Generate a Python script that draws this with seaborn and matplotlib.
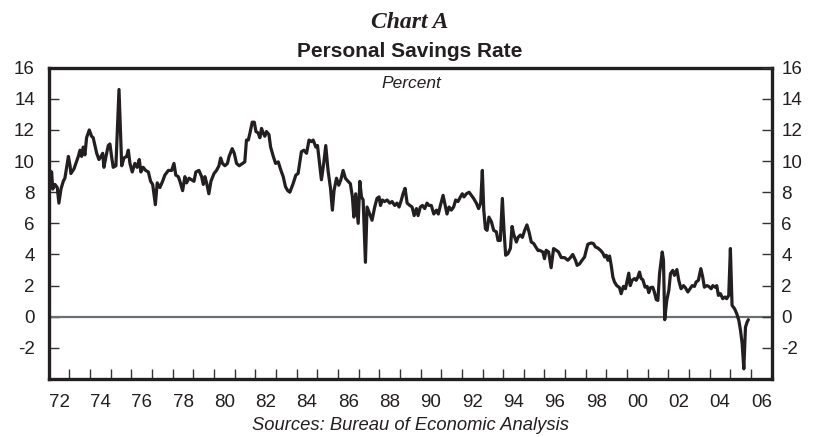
import matplotlib
matplotlib.use("Agg")
import matplotlib.pyplot as plt
from matplotlib import font_manager
import seaborn as sns
import pandas as pd

# ---- data (decimal year, personal savings rate %) ----
years = [
    1972.00, 1972.14, 1972.19, 1972.30, 1972.41, 1972.49, 1972.59, 1972.70, 1972.78, 1972.95,
    1973.03, 1973.07, 1973.22, 1973.43, 1973.51, 1973.59, 1973.67, 1973.75, 1973.83, 1973.96,
    1974.07, 1974.15, 1974.32, 1974.43, 1974.53, 1974.61, 1974.67, 1974.77, 1974.88, 1974.96,
    1975.04, 1975.12, 1975.25, 1975.40, 1975.53, 1975.64, 1975.77, 1975.85, 1975.93, 1976.04,
    1976.17, 1976.28, 1976.38, 1976.46, 1976.57, 1976.69, 1976.82, 1976.93, 1977.03, 1977.16,
    1977.25, 1977.38, 1977.51, 1977.62, 1977.79, 1977.95, 1978.06, 1978.15, 1978.27, 1978.35,
    1978.48, 1978.59, 1978.67, 1978.79, 1978.91, 1979.03, 1979.12, 1979.27, 1979.40, 1979.48,
    1979.56, 1979.64, 1979.75, 1979.85, 1980.00, 1980.12, 1980.24, 1980.32, 1980.41, 1980.53,
    1980.65, 1980.73, 1980.88, 1980.98, 1981.09, 1981.22, 1981.38, 1981.49, 1981.57, 1981.66,
    1981.74, 1981.85, 1981.95, 1982.03, 1982.14, 1982.22, 1982.30, 1982.38, 1982.46, 1982.54,
    1982.66, 1982.74, 1982.87, 1982.98, 1983.11, 1983.24, 1983.35, 1983.46, 1983.57, 1983.67,
    1983.83, 1983.96, 1984.07, 1984.23, 1984.35, 1984.48, 1984.60, 1984.72, 1984.80, 1984.93,
    1985.01, 1985.09, 1985.20, 1985.31, 1985.41, 1985.52, 1985.64, 1985.73, 1985.81, 1985.93,
    1986.04, 1986.14, 1986.25, 1986.36, 1986.49, 1986.60, 1986.70, 1986.77, 1986.86, 1986.98,
    1987.06, 1987.14, 1987.22, 1987.33, 1987.41, 1987.54, 1987.65, 1987.78, 1987.89, 1987.99,
    1988.06, 1988.15, 1988.26, 1988.38, 1988.51, 1988.62, 1988.75, 1988.86, 1988.96, 1989.07,
    1989.15, 1989.25, 1989.35, 1989.48, 1989.59, 1989.69, 1989.80, 1989.88, 1989.99, 1990.09,
    1990.20, 1990.31, 1990.41, 1990.52, 1990.64, 1990.77, 1990.86, 1990.96, 1991.09, 1991.19,
    1991.28, 1991.38, 1991.49, 1991.60, 1991.70, 1991.81, 1991.93, 1992.02, 1992.10, 1992.22,
    1992.35, 1992.46, 1992.57, 1992.70, 1992.81, 1992.91, 1992.99, 1993.06, 1993.14, 1993.22,
    1993.31, 1993.43, 1993.54, 1993.67, 1993.75, 1993.86, 1993.96, 1994.04, 1994.12, 1994.23,
    1994.35, 1994.43, 1994.52, 1994.64, 1994.72, 1994.83, 1994.93, 1995.04, 1995.15, 1995.25,
    1995.36, 1995.48, 1995.57, 1995.69, 1995.76, 1995.92, 1996.00, 1996.08, 1996.20, 1996.32,
    1996.44, 1996.57, 1996.68, 1996.81, 1996.97, 1997.13, 1997.24, 1997.37, 1997.50, 1997.58,
    1997.70, 1997.82, 1997.94, 1998.02, 1998.10, 1998.26, 1998.37, 1998.47, 1998.58, 1998.71,
    1998.82, 1998.91, 1998.99, 1999.07, 1999.15, 1999.23, 1999.31, 1999.39, 1999.50, 1999.63,
    1999.71, 1999.82, 1999.92, 1999.99, 2000.08, 2000.15, 2000.24, 2000.36, 2000.44, 2000.52,
    2000.60, 2000.68, 2000.76, 2000.87, 2000.97, 2001.05, 2001.13, 2001.24, 2001.32, 2001.41,
    2001.49, 2001.57, 2001.70, 2001.76, 2001.82, 2001.92, 2002.02, 2002.10, 2002.21, 2002.29,
    2002.41, 2002.50, 2002.61, 2002.73, 2002.82, 2002.94, 2003.05, 2003.15, 2003.26, 2003.34,
    2003.45, 2003.57, 2003.66, 2003.74, 2003.86, 2003.95, 2004.07, 2004.15, 2004.26, 2004.34,
    2004.42, 2004.52, 2004.63, 2004.74, 2004.82, 2004.92, 2005.00, 2005.08, 2005.20, 2005.31,
    2005.41, 2005.49, 2005.57, 2005.65, 2005.73, 2005.81, 2005.87,
]
rate = [
    9.4, 9.3, 8.2, 8.5, 8.3, 7.3, 8.2, 8.7, 8.9, 10.3,
    9.7, 9.2, 9.5, 10.3, 10.7, 10.3, 10.9, 10.4, 11.5, 12.0,
    11.6, 11.5, 10.5, 10.1, 10.3, 10.5, 9.6, 10.3, 11.0, 11.1,
    10.3, 9.6, 9.7, 14.6, 9.7, 10.2, 10.3, 10.7, 9.85, 9.3,
    9.85, 9.6, 10.1, 9.3, 9.6, 9.4, 9.3, 8.7, 8.5, 7.2,
    8.6, 8.3, 8.7, 9.1, 9.4, 9.4, 9.85, 9.1, 9.0, 8.7,
    8.1, 9.0, 8.6, 8.9, 8.8, 8.7, 9.3, 9.4, 9.0, 8.5,
    9.0, 8.6, 7.9, 8.7, 9.2, 9.4, 9.7, 10.2, 9.85, 9.7,
    9.85, 10.3, 10.8, 10.5, 9.85, 9.7, 9.85, 9.95, 11.35, 11.35,
    11.8, 12.5, 12.5, 11.9, 11.8, 11.5, 12.1, 11.8, 11.6, 11.9,
    11.7, 10.9, 10.3, 9.85, 9.95, 9.4, 9.0, 8.35, 8.1, 8.0,
    8.55, 9.1, 9.2, 10.6, 10.7, 10.5, 11.35, 11.25, 11.35, 10.9,
    11.0, 10.05, 8.8, 9.85, 11.0, 9.4, 8.25, 6.85, 8.1, 8.9,
    8.45, 8.8, 9.4, 8.9, 8.7, 8.55, 7.7, 6.4, 7.9, 6.0,
    8.7, 7.7, 7.5, 3.5, 7.05, 6.6, 6.2, 7.05, 7.6, 7.7,
    7.15, 7.5, 7.4, 7.5, 7.3, 7.4, 7.15, 7.3, 7.05, 7.5,
    7.9, 8.25, 7.3, 7.15, 7.05, 6.5, 6.95, 6.5, 7.05, 7.15,
    6.95, 7.3, 7.15, 7.15, 6.6, 6.85, 6.6, 7.15, 7.8, 7.15,
    6.6, 7.05, 6.85, 7.05, 7.5, 7.4, 7.7, 7.9, 7.7, 7.9,
    8.0, 7.8, 7.6, 7.3, 6.95, 7.3, 9.4, 6.85, 5.65, 5.55,
    6.4, 6.1, 5.55, 5.45, 4.9, 4.9, 7.6, 5.55, 3.95, 4.05,
    4.4, 5.8, 5.25, 4.8, 5.1, 5.25, 5.1, 5.55, 5.9, 5.45,
    4.8, 4.7, 4.5, 4.25, 4.27, 4.16, 3.73, 4.27, 4.16, 3.15,
    4.38, 4.27, 4.16, 3.8, 3.8, 3.63, 3.78, 4.0, 3.63, 3.3,
    3.4, 3.63, 3.84, 4.27, 4.66, 4.74, 4.7, 4.48, 4.42, 4.27,
    4.1, 3.84, 3.95, 3.63, 3.9, 3.3, 2.55, 2.23, 2.0, 1.87,
    1.48, 1.95, 1.8, 2.23, 2.8, 2.0, 2.34, 2.45, 2.34, 2.55,
    2.87, 2.45, 2.38, 1.9, 1.95, 1.55, 1.87, 1.9, 1.59, 1.1,
    1.05, 2.77, 4.16, 3.63, -0.19, 1.05, 1.7, 2.77, 2.98, 2.66,
    3.03, 2.34, 1.8, 2.0, 1.87, 1.59, 1.8, 2.0, 1.95, 2.23,
    2.34, 3.09, 2.55, 1.9, 2.0, 1.95, 1.8, 2.0, 1.9, 2.0,
    1.37, 1.48, 1.16, 1.27, 1.16, 1.37, 4.38, 0.73, 0.52, 0.19,
    -0.24, -0.88, -1.74, -3.35, -0.67, -0.34, -0.19,
]

ytick_values = [-2, 0, 2, 4, 6, 8, 10, 12, 14, 16]
ytick_labels = ["-2", "0", "2", "4", "6", "8", "10", "12", "14", "16"]
xtick_years = list(range(1973, 2007))
xlabel_years = list(range(1972, 2007, 2))
xlabel_texts = ["72", "74", "76", "78", "80", "82", "84", "86", "88", "90",
                "92", "94", "96", "98", "00", "02", "04", "06"]

chart_kicker = "Chart A"
chart_title = "Personal Savings Rate"
unit_label = "Percent"
source_label = "Sources: Bureau of Economic Analysis"

# ---- styling ----
sns.set_theme(style="white")
plt.rcParams["font.family"] = ["Liberation Sans", "DejaVu Sans"]

installed = {f.name for f in font_manager.fontManager.ttflist}
narrow = "Liberation Sans Narrow" if "Liberation Sans Narrow" in installed else None

INK = "#231f20"

fig = plt.figure(figsize=(8.13, 4.37), dpi=100)
ax = fig.add_axes([0.0600, 0.1327, 0.8892, 0.7124])

df = pd.DataFrame({"year": years, "rate": rate})
ax.axhline(0, color="#6d6e71", lw=1.6, zorder=1)
sns.lineplot(data=df, x="year", y="rate", ax=ax, color=INK, linewidth=2.3,
             estimator=None, sort=False, zorder=3)

ax.set_xlim(1972, 2007)
ax.set_ylim(-4, 16)
ax.set_xlabel("")
ax.set_ylabel("")

for s in ax.spines.values():
    s.set_visible(True)
    s.set_color(INK)
    s.set_linewidth(2.4)

# y axis (left)
ax.set_yticks(ytick_values)
ax.set_yticklabels(ytick_labels)
ax.tick_params(axis="y", which="major", direction="in", length=7, width=1.0,
               color="#333333", left=True, right=False, labelleft=True,
               labelsize=13.5, pad=10, labelcolor=INK)

# y axis (right) via twin
ax2 = ax.twinx()
ax2.set_ylim(-4, 16)
ax2.set_yticks(ytick_values)
ax2.set_yticklabels(ytick_labels)
ax2.tick_params(axis="y", direction="in", length=7, width=1.0, color="#333333",
                labelsize=13.5, pad=7, labelcolor=INK)
ax2.grid(False)
for s in ax2.spines.values():
    s.set_visible(False)

# x axis: yearly ticks, labels centered mid-year for even years
ax.set_xticks(xtick_years)
ax.set_xticklabels([])
ax.tick_params(axis="x", which="major", direction="in", length=7, width=1.0,
               color="#333333", bottom=True)
ax.set_xticks([y + 0.5 for y in xlabel_years], minor=True)
ax.set_xticklabels(xlabel_texts, minor=True)
ax.tick_params(axis="x", which="minor", length=0, labelsize=13.5, pad=11,
               labelcolor=INK)
ax.grid(False)

# titles & notes
fig.text(0.5045, 1 - 28.3 / 437, chart_kicker, ha="center", va="baseline",
         family=["Liberation Serif", "DejaVu Serif"], weight="bold",
         style="italic", fontsize=17, color=INK)
fig.text(0.5045, 1 - 56.7 / 437, chart_title, ha="center", va="baseline",
         weight="bold", fontsize=15, color=INK)
fig.text(0.506, 1 - 88.0 / 437, unit_label, ha="center", va="baseline",
         style="italic", fontsize=12.5, color=INK)
if narrow:
    fig.text(0.5045, 1 - 430 / 437, source_label, ha="center", va="baseline",
             family=[narrow, "Liberation Sans"], style="italic", fontsize=15,
             color=INK)
else:
    fig.text(0.5045, 1 - 430 / 437, source_label, ha="center", va="baseline",
             style="italic", fontsize=13.2, color=INK)

fig.savefig("out.png", dpi=100)
